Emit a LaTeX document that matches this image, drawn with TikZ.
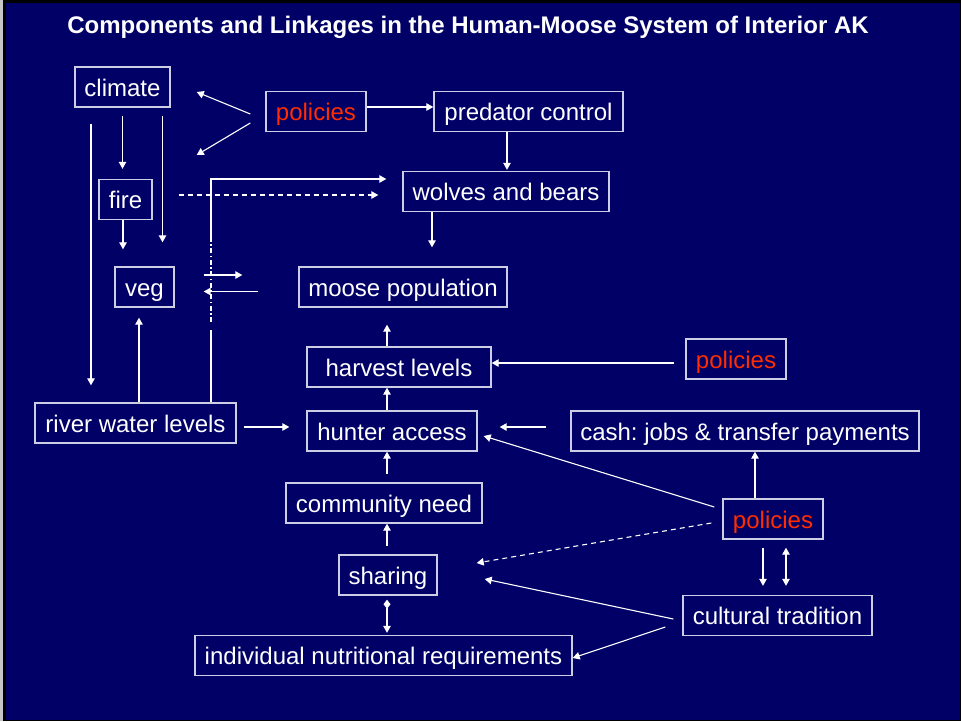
\documentclass[tikz,border=0pt]{standalone}
\usepackage{fontspec}
\setmainfont{Liberation Sans}
\usetikzlibrary{arrows.meta,calc}
\definecolor{slidebg}{RGB}{0,0,102}
\definecolor{boxline}{RGB}{205,205,230}
\definecolor{polred}{RGB}{255,45,0}
\frenchspacing
\begin{document}
\begin{tikzpicture}[x=1pt,y=-1pt,
  box/.style={draw=boxline,line width=1.4pt,text=white,minimum height=40pt,
    inner sep=0pt,text height=22pt,text depth=4pt,font=\fontsize{24}{28}\selectfont},
  pol/.style={box,text=polred},
  arr/.style={draw=white,line width=1.1pt,-{Triangle[length=7pt,width=7.5pt]}},
  dblarr/.style={draw=white,line width=1.1pt,{Triangle[length=7pt,width=7.5pt]}-{Triangle[length=7pt,width=7.5pt]}},
  dsharr/.style={arr,dash pattern=on 5pt off 4pt},
]
% slide background and frame
\useasboundingbox (0,0) rectangle (961,721);
\fill[black] (0,0) rectangle (961,721);
\fill[gray!45] (0,0) rectangle (2.5,721);
\fill[slidebg] (5.5,3) rectangle (960,720);

% title
\node[text=white,font=\fontsize{24}{28}\bfseries\selectfont] (title) at (468,27)
  {Components and Linkages in the Human-Moose System of Interior AK};

% boxes
\node[box,minimum width=95pt]  (climate) at (122.5,87)  {climate};
\node[pol,minimum width=100pt] (ptop)    at (316,111.5) {policies};
\node[box,minimum width=189pt] (pred)    at (528.5,111.5) {predator control};
\node[box,minimum width=53pt]  (fire)    at (125.5,199.5) {fire};
\node[box,minimum width=206pt] (wolves)  at (506,191.5) {wolves and bears};
\node[box,minimum width=59pt]  (veg)     at (144.5,287) {veg};
\node[box,minimum width=208pt] (moose)   at (403,287)   {moose population};
\node[box,minimum width=184pt] (harvest) at (399,367)   {harvest levels};
\node[pol,minimum width=100pt] (pmid)    at (736,359)   {policies};
\node[box,minimum width=201pt] (river)   at (135.5,423) {river water levels};
\node[box,minimum width=170pt] (hunter)  at (392,431)   {hunter access};
\node[box,minimum width=348pt] (cash)    at (745,431)   {cash: jobs \& transfer payments};
\node[box,minimum width=196pt] (comm)    at (384,503)   {community need};
\node[pol,minimum width=100pt] (plow)    at (773,519)   {policies};
\node[box,minimum width=98pt]  (sharing) at (388,575)   {sharing};
\node[box,minimum width=189pt] (cult)    at (777.5,615.5) {cultural tradition};
\node[box,minimum width=377pt] (indiv)   at (383.5,655.5) {individual nutritional requirements};

% climate and fire drivers
\draw[arr,shorten <=8pt,shorten >=10pt] (climate.south) -- (climate.south |- fire.north);
\draw[arr,shorten <=8pt,shorten >=24pt] ([xshift=40pt]climate.south) -- ([xshift=40pt]climate.south |- veg.north);
\draw[arr,shorten <=16pt,shorten >=17pt] ([xshift=-31.5pt]climate.south) -- ([xshift=-31.5pt]climate.south |- river.north);
\draw[arr,shorten >=17pt] ([xshift=-2.5pt]fire.south) -- ([xshift=-2.5pt]fire.south |- veg.north);
\draw[dsharr] ($(fire.east)+(26,-4.5)$) -- ($(wolves.west)+(-24,3.5)$);

% policies acting on climate and predators
\draw[arr] ($(ptop.west)+(-15,2.5)$) -- ($(climate.east)+(26,5)$);
\draw[arr] ($(ptop.west)+(-15,11.5)$) -- ($(climate.east)+(26,68)$);
\draw[arr] ($(ptop.east)+(0,-4.5)$) -- ($(pred.west)+(0,-4.5)$);
\draw[arr,shorten >=1pt] ([xshift=-21.5pt]pred.south) -- ([xshift=-21.5pt]pred.south |- wolves.north);
\draw[arr,shorten >=19pt] ([xshift=-74pt]wolves.south) -- ([xshift=-74pt]wolves.south |- moose.north);

% veg and moose
\draw[arr] ($(veg.east)+(29,-12)$) -- ($(moose.west)+(-56,-12)$);
\draw[arr] ($(moose.west)+(-40,4.5)$) -- ($(veg.east)+(29,4.5)$);

% river water levels
\coordinate (rv) at ([xshift=75.5pt]river.north);
\draw[white,line width=1.1pt] (rv) -- ($(rv)+(0,-72)$);
\draw[white,line width=1.1pt,dash pattern=on 5pt off 2.5pt on 1.5pt off 2.5pt]
  ($(rv)+(0,-80)$) -- ($(rv)+(0,-161)$);
\draw[arr,shorten >=16pt] ($(rv)+(0,-161)$) |- ([yshift=12.5pt]wolves.west);
\draw[arr,shorten >=10pt] ([xshift=3.5pt]river.north) -- ([xshift=3.5pt]river.north |- veg.south);
\draw[arr] ($(river.east)+(7,4)$) -- ($(hunter.west)+(-17,-4)$);

% harvest chain
\draw[arr,shorten >=17pt] ([xshift=-12pt]harvest.north) -- ([xshift=-12pt]harvest.north |- moose.south);
\draw[arr] ([xshift=-5pt]hunter.north) -- ([xshift=-5pt]hunter.north |- harvest.south);
\draw[arr,shorten <=8pt] ([xshift=3pt]comm.north) -- ([xshift=3pt]comm.north |- hunter.south);
\draw[arr,shorten <=8pt] ([xshift=-1pt]sharing.north) -- ([xshift=-1pt]sharing.north |- comm.south);
\draw[draw=white,line width=1.1pt,{Diamond[length=9pt,width=7pt]}-{Triangle[length=7pt,width=7.5pt]},shorten <=4pt,shorten >=2pt]
  ([xshift=-1pt]sharing.south) -- ([xshift=-1pt]sharing.south |- indiv.north);

% policies and cash
\draw[arr] ($(pmid.west)+(-11,4)$) -- ($(harvest.east)+(0,-4)$);
\draw[arr] ($(cash.west)+(-24,-4)$) -- ($(hunter.east)+(22,-4)$);
\draw[arr] ($(plow.west)+(-8,-12)$) -- ($(hunter.east)+(6,5)$);
\draw[arr] ([xshift=-18pt]plow.north) -- ([xshift=-18pt]plow.north |- cash.south);
\draw[dsharr] ($(plow.west)+(-11,4)$) -- ($(sharing.east)+(39,-12)$);

% cultural tradition
\draw[arr,shorten <=8pt,shorten >=9pt] ([xshift=-10pt]plow.south) -- ([xshift=-10pt]plow.south |- cult.north);
\draw[dblarr,shorten <=8pt,shorten >=9pt] ([xshift=13pt]plow.south) -- ([xshift=13pt]plow.south |- cult.north);
\draw[arr] ($(cult.west)+(-9,3.5)$) -- ($(sharing.east)+(47,4)$);
\draw[arr] ($(cult.west)+(-17,11.5)$) -- ($(indiv.east)+(0,2.5)$);
\end{tikzpicture}
\end{document}
